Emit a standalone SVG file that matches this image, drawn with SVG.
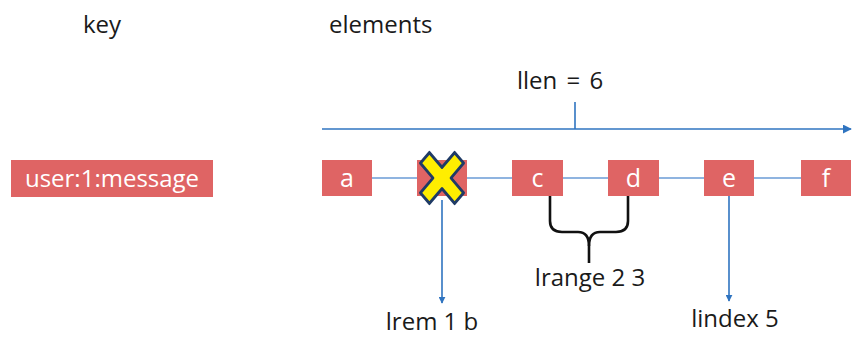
<svg xmlns="http://www.w3.org/2000/svg" width="866" height="350" viewBox="0 0 866 350">
<style>
.t{font-family:"Open Sans","Noto Sans",sans-serif;font-size:24px;fill:#1a1a1a}
.box{fill:#df6464}
.bt{font-family:"Open Sans","Noto Sans",sans-serif;font-size:25px;fill:#ffffff;text-anchor:middle}
.link{stroke:#8fb4e0;stroke-width:2;fill:none}
.blue{stroke:#2f74c0;stroke-width:1.6;fill:none}
.brace{stroke:#111;stroke-width:2.6;fill:none;stroke-linejoin:round}
</style>
<defs>
<marker id="ah" viewBox="0 0 10 10" refX="9" refY="5" markerWidth="7" markerHeight="7" markerUnits="userSpaceOnUse" orient="auto">
<path d="M0,0 L10,5 L0,10 z" fill="#2f74c0"/>
</marker>
<marker id="ah2" viewBox="0 0 10 10" refX="9" refY="5" markerWidth="9" markerHeight="9" markerUnits="userSpaceOnUse" orient="auto">
<path d="M0,0 L10,5 L0,10 z" fill="#2f74c0"/>
</marker>
</defs>
<rect width="866" height="350" fill="#ffffff"/>
<text class="t" x="83" y="33">key</text>
<text class="t" x="329" y="33">elements</text>
<text class="t" x="560" y="89" text-anchor="middle" word-spacing="3">llen = 6</text>
<g id="connectors">
<line class="blue" x1="322" y1="129" x2="851" y2="129" marker-end="url(#ah2)"/>
<line class="blue" x1="575" y1="102" x2="575" y2="129"/>
<line class="link" x1="372" y1="178" x2="417" y2="178"/>
<line class="link" x1="467" y1="178" x2="512" y2="178"/>
<line class="link" x1="563" y1="178" x2="608" y2="178"/>
<line class="link" x1="659" y1="178" x2="704" y2="178"/>
<line class="link" x1="754" y1="178" x2="801" y2="178"/>
<line class="blue" x1="442" y1="200" x2="442" y2="303" marker-end="url(#ah)"/>
<line class="blue" x1="729" y1="196" x2="729" y2="301" marker-end="url(#ah)"/>
<path class="brace" d="M550,196 V221 Q550,232 562,232 H578 Q589,232 589,246 V263"/>
<path class="brace" d="M628,196 V221 Q628,232 616,232 H600 Q589,232 589,246"/>
</g>
<g id="key">
<rect class="box" x="11" y="160" width="202" height="37"/>
<text class="bt" x="112" y="187" style="font-size:24px">user:1:message</text>
</g>
<g id="node-a"><rect class="box" x="322" y="160" width="50" height="36"/><text class="bt" x="347" y="187">a</text></g>
<g id="node-b"><rect class="box" x="417" y="160" width="50" height="36"/>
<polygon transform="translate(442,178) scale(0.9,1.06)" points="-24,-14 -14,-24 0,-10 14,-24 24,-14 10,0 24,14 14,24 0,10 -14,24 -24,14 -10,0" fill="#ffee00" stroke="#1f3b66" stroke-width="3" stroke-linejoin="round"/></g>
<g id="node-c"><rect class="box" x="512" y="160" width="51" height="36"/><text class="bt" x="537.5" y="187">c</text></g>
<g id="node-d"><rect class="box" x="608" y="160" width="51" height="36"/><text class="bt" x="633.5" y="187">d</text></g>
<g id="node-e"><rect class="box" x="704" y="160" width="50" height="36"/><text class="bt" x="729" y="187">e</text></g>
<g id="node-f"><rect class="box" x="801" y="160" width="50" height="36"/><text class="bt" x="826" y="187">f</text></g>
<text class="t" x="432" y="330" text-anchor="middle">lrem 1 b</text>
<text class="t" x="590" y="286" text-anchor="middle">lrange 2 3</text>
<text class="t" x="735" y="327" text-anchor="middle">lindex 5</text>
</svg>
